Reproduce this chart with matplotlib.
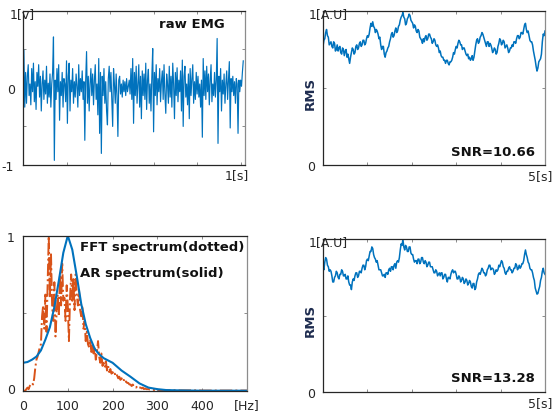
import numpy as np
import matplotlib
matplotlib.use("Agg")
import matplotlib.pyplot as plt

# ---------------- data ----------------
emg_dt = 0.004
emg = [
    0.10, 0.49, -0.25, 0.20, -0.20, 0.15, 0.30, -0.10, 0.05, -0.22,
    0.25, -0.05, 0.32, -0.18, 0.08, -0.28, 0.20, 0.02, 0.30, -0.12,
    0.15, -0.30, 0.05, 0.22, -0.15, 0.10, -0.08, 0.28, -0.20, 0.06,
    -0.12, 0.18, -0.25, 0.05, 0.20, 0.66, -0.94, 0.10, -0.15, 0.25,
    -0.05, 0.30, -0.42, 0.08, -0.10, 0.20, -0.25, 0.12, 0.05, -0.18,
    0.35, -0.46, 0.15, 0.32, -0.30, 0.10, -0.05, 0.25, -0.20, 0.08,
    -0.12, 0.18, 0.02, -0.25, 0.30, -0.10, 0.12, -0.05, 0.22, -0.15,
    0.08, -0.68, 0.10, 0.47, -0.20, 0.15, -0.30, 0.05, 0.25, -0.10,
    0.18, -0.22, 0.10, 0.30, -0.15, 0.05, -0.35, 0.38, -0.59, 0.20,
    -0.85, 0.15, -0.10, 0.25, -0.20, 0.08, -0.30, -0.48, 0.12, 0.28,
    -0.05, 0.20, -0.15, -0.50, 0.25, 0.05, -0.20, 0.18, -0.10, -0.63,
    0.10, 0.15, -0.08, 0.05, -0.12, 0.10, -0.05, 0.08, -0.10, 0.12,
    -0.05, 0.02, 0.10, -0.08, 0.25, -0.15, 0.38, -0.46, 0.20, -0.10,
    0.28, -0.20, 0.05, 0.30, -0.25, 0.15, -0.40, 0.22, -0.10, 0.18,
    -0.15, 0.32, -0.28, 0.10, 0.24, -0.20, 0.05, -0.30, 0.15, 0.51,
    -0.57, 0.20, -0.10, 0.30, -0.22, 0.12, -0.05, 0.25, -0.18, 0.08,
    0.22, -0.15, 0.30, -0.08, -0.33, 0.18, 0.05, -0.20, 0.28, -0.12,
    0.15, -0.25, 0.32, 0.05, -0.40, 0.20, -0.10, 0.26, -0.18, 0.10,
    -0.05, 0.22, -0.30, 0.36, -0.50, 0.15, 0.28, -0.12, 0.05, -0.22,
    0.18, -0.40, 0.25, -0.10, 0.12, 0.30, -0.20, 0.08, -0.15, 0.20,
    -0.08, 0.15, -0.12, 0.05, -0.25, 0.10, -0.64, 0.38, -0.10, 0.22,
    -0.15, 0.28, -0.05, 0.18, -0.22, 0.10, 0.30, -0.18, 0.05, -0.10,
    0.20, -0.12, 0.10, 0.64, -0.72, 0.15, -0.05, 0.25, -0.30, 0.10,
    -0.08, 0.18, -0.20, 0.05, 0.22, -0.15, 0.10, 0.34, -0.52, 0.12,
    -0.05, 0.15, -0.10, 0.08, -0.20, 0.12, 0.05, -0.59, 0.10, -0.05,
    0.10, 0.02, 0.20, 0.35,
]

rms_duration = 5.0
rms1 = [
    0.77, 0.81, 0.82, 0.86, 0.88, 0.84, 0.83, 0.78, 0.79, 0.80, 0.77, 0.76, 0.80, 0.79, 0.74, 0.75, 0.78, 0.74, 0.76, 0.77,
    0.73, 0.72, 0.76, 0.75, 0.71, 0.74, 0.75, 0.70, 0.72, 0.69, 0.66, 0.70, 0.73, 0.76, 0.75, 0.72, 0.73, 0.77, 0.78, 0.75,
    0.76, 0.79, 0.80, 0.77, 0.78, 0.81, 0.81, 0.78, 0.79, 0.82, 0.84, 0.83, 0.85, 0.89, 0.92, 0.90, 0.93, 0.90, 0.89, 0.86,
    0.88, 0.87, 0.85, 0.82, 0.83, 0.78, 0.75, 0.77, 0.77, 0.72, 0.70, 0.73, 0.74, 0.76, 0.77, 0.80, 0.82, 0.85, 0.86, 0.83,
    0.84, 0.87, 0.89, 0.86, 0.87, 0.90, 0.91, 0.94, 0.96, 0.97, 0.99, 0.96, 0.95, 0.91, 0.92, 0.95, 0.96, 0.98, 0.97, 0.94,
    0.93, 0.92, 0.89, 0.91, 0.90, 0.87, 0.86, 0.88, 0.87, 0.83, 0.82, 0.81, 0.79, 0.82, 0.80, 0.83, 0.84, 0.81, 0.82, 0.85,
    0.85, 0.83, 0.82, 0.79, 0.80, 0.82, 0.81, 0.78, 0.77, 0.78, 0.76, 0.73, 0.74, 0.71, 0.70, 0.70, 0.68, 0.68, 0.66, 0.68,
    0.68, 0.66, 0.65, 0.67, 0.67, 0.68, 0.70, 0.73, 0.72, 0.75, 0.77, 0.76, 0.79, 0.81, 0.80, 0.78, 0.78, 0.75, 0.76, 0.76,
    0.74, 0.72, 0.71, 0.72, 0.69, 0.70, 0.68, 0.69, 0.71, 0.68, 0.70, 0.74, 0.78, 0.81, 0.82, 0.79, 0.80, 0.83, 0.84, 0.86,
    0.85, 0.83, 0.81, 0.79, 0.77, 0.80, 0.80, 0.77, 0.79, 0.78, 0.76, 0.73, 0.74, 0.76, 0.75, 0.72, 0.73, 0.77, 0.79, 0.82,
    0.81, 0.78, 0.79, 0.81, 0.80, 0.76, 0.77, 0.78, 0.76, 0.73, 0.74, 0.76, 0.76, 0.78, 0.77, 0.80, 0.80, 0.79, 0.82, 0.84,
    0.84, 0.82, 0.83, 0.86, 0.86, 0.85, 0.88, 0.91, 0.92, 0.88, 0.86, 0.87, 0.84, 0.81, 0.80, 0.80, 0.78, 0.74, 0.71, 0.68,
    0.64, 0.61, 0.63, 0.67, 0.68, 0.69, 0.72, 0.80, 0.85, 0.84, 0.87,
]
rms2 = [
    0.82, 0.80, 0.85, 0.88, 0.87, 0.83, 0.82, 0.79, 0.80, 0.79, 0.76, 0.72, 0.72, 0.75, 0.76, 0.79, 0.78, 0.75, 0.74, 0.77,
    0.77, 0.80, 0.79, 0.76, 0.76, 0.77, 0.74, 0.74, 0.76, 0.72, 0.70, 0.70, 0.67, 0.72, 0.74, 0.73, 0.76, 0.78, 0.78, 0.75,
    0.76, 0.79, 0.79, 0.78, 0.81, 0.83, 0.83, 0.80, 0.82, 0.86, 0.87, 0.86, 0.89, 0.92, 0.92, 0.95, 0.94, 0.90, 0.88, 0.87,
    0.85, 0.86, 0.83, 0.80, 0.80, 0.80, 0.78, 0.76, 0.76, 0.77, 0.75, 0.78, 0.78, 0.77, 0.80, 0.81, 0.79, 0.82, 0.82, 0.80,
    0.83, 0.84, 0.81, 0.85, 0.86, 0.85, 0.88, 0.93, 0.97, 0.96, 1.00, 0.95, 0.93, 0.96, 0.95, 0.92, 0.92, 0.95, 0.95, 0.91,
    0.90, 0.90, 0.87, 0.85, 0.86, 0.86, 0.84, 0.87, 0.87, 0.84, 0.85, 0.88, 0.88, 0.85, 0.84, 0.86, 0.85, 0.82, 0.83, 0.85,
    0.85, 0.82, 0.82, 0.82, 0.80, 0.78, 0.78, 0.80, 0.79, 0.76, 0.77, 0.78, 0.76, 0.78, 0.78, 0.74, 0.75, 0.77, 0.77, 0.74,
    0.72, 0.75, 0.75, 0.74, 0.77, 0.79, 0.80, 0.78, 0.79, 0.79, 0.77, 0.74, 0.74, 0.76, 0.75, 0.72, 0.73, 0.75, 0.74, 0.71,
    0.72, 0.74, 0.73, 0.70, 0.71, 0.73, 0.72, 0.69, 0.68, 0.71, 0.71, 0.67, 0.68, 0.72, 0.74, 0.77, 0.78, 0.77, 0.79, 0.81,
    0.80, 0.78, 0.78, 0.76, 0.77, 0.80, 0.81, 0.83, 0.83, 0.80, 0.81, 0.81, 0.80, 0.77, 0.78, 0.80, 0.79, 0.80, 0.83, 0.82,
    0.84, 0.86, 0.85, 0.82, 0.81, 0.78, 0.77, 0.79, 0.79, 0.81, 0.82, 0.80, 0.80, 0.78, 0.79, 0.81, 0.81, 0.84, 0.83, 0.80,
    0.81, 0.83, 0.81, 0.82, 0.84, 0.84, 0.86, 0.90, 0.93, 0.90, 0.88, 0.85, 0.84, 0.81, 0.80, 0.80, 0.78, 0.75, 0.73, 0.68,
    0.66, 0.64, 0.645, 0.67, 0.69, 0.73, 0.75, 0.79, 0.81, 0.78, 0.77,
]

fft_freq = list(np.arange(0, 300.1, 2.5)) + list(np.arange(310, 500.1, 10))
fft_amp = [
    0.00, 0.00, 0.00, 0.01, 0.02, 0.01, 0.03, 0.04, 0.05, 0.04,
    0.08, 0.15, 0.20, 0.22, 0.25, 0.28, 0.30, 0.48, 0.55, 0.40,
    0.62, 0.38, 0.70, 1.00, 0.60, 0.88, 0.55, 0.45, 0.70, 0.35,
    0.50, 0.62, 0.48, 0.75, 0.55, 0.82, 0.58, 0.60, 0.45, 0.68,
    0.55, 0.32, 0.60, 0.75, 0.58, 0.72, 0.52, 0.75, 0.62, 0.55,
    0.65, 0.52, 0.48, 0.55, 0.40, 0.45, 0.32, 0.38, 0.30, 0.28,
    0.33, 0.25, 0.30, 0.24, 0.28, 0.20, 0.25, 0.32, 0.22, 0.18,
    0.24, 0.16, 0.18, 0.15, 0.19, 0.13, 0.16, 0.12, 0.14, 0.11,
    0.12, 0.10, 0.11, 0.09, 0.10, 0.08, 0.09, 0.07, 0.08, 0.06,
    0.07, 0.05, 0.06, 0.05, 0.05, 0.04, 0.04, 0.03, 0.04, 0.03,
    0.03, 0.02, 0.03, 0.02, 0.02, 0.02, 0.015, 0.02, 0.01, 0.015,
    0.01, 0.01, 0.01, 0.008, 0.008, 0.006, 0.006, 0.005, 0.005, 0.004,
    0.004,
    0.004, 0.003, 0.003, 0.003, 0.002, 0.002, 0.002, 0.002, 0.002, 0.001,
    0.001, 0.001, 0.001, 0.001, 0.001, 0.001, 0.001, 0.001, 0.001, 0.001,
]

ar_freq = [0, 10, 20, 30, 40, 50, 60, 70, 80, 90, 100, 110, 120, 130, 140,
           150, 160, 170, 180, 190, 200, 220, 240, 260, 280, 300, 320, 350,
           400, 450, 500]
ar_amp = [0.18, 0.185, 0.20, 0.22, 0.26, 0.33, 0.41, 0.54, 0.71, 0.89, 1.00,
          0.91, 0.74, 0.56, 0.43, 0.34, 0.27, 0.235, 0.21, 0.195, 0.18, 0.13,
          0.09, 0.047, 0.02, 0.01, 0.004, 0.002, 0.0, 0.0, 0.0]

snr_labels = ["SNR=10.66", "SNR=13.28"]

# ---------------- style ----------------
BLUE = "#0072BD"
ORANGE = "#D95319"
TXT = "#262626"
W, H = 554, 417

fig = plt.figure(figsize=(W / 100, H / 100), dpi=100)


def px_axes(l, t, r, b):
    return fig.add_axes([l / W, 1 - b / H, (r - l) / W, (b - t) / H])


def ptext(x, y, s, **kw):
    kw.setdefault("fontsize", 9)
    kw.setdefault("color", TXT)
    fig.text(x / W, 1 - y / H, s, **kw)


def style(ax):
    for side in ["left", "bottom", "top"]:
        ax.spines[side].set_color("#262626")
        ax.spines[side].set_linewidth(0.9)
    ax.spines["right"].set_color("#8c8c8c")
    ax.spines["right"].set_linewidth(0.9)
    ax.tick_params(direction="in", length=2.5, width=0.7, color="#8c8c8c",
                   top=True, right=True, labelleft=False, labelbottom=False)


# panel 1: raw EMG
ax1 = px_axes(23, 10.7, 245, 165)
t = np.arange(len(emg)) * emg_dt
ax1.plot(t, emg, color=BLUE, lw=0.85)
ax1.set_xlim(0, 1.02)
ax1.set_ylim(-1, 1)
ax1.set_xticks([0.2, 0.4, 0.6, 0.8, 1.0])
ax1.set_yticks([-0.5, 0.5])
style(ax1)
ptext(10, 14.5, "1[v]", ha="left", va="center")
ptext(15, 90, "0", ha="right", va="center")
ptext(14, 168, "-1", ha="right", va="center")
ptext(236.5, 176, "1[s]", ha="center", va="center")
ptext(192, 24, "raw EMG", ha="center", va="center", fontsize=9.5,
      fontweight="bold", color="#111111")

# panels 2 and 4: RMS
for (top, bot, rms, snr) in [(11, 165, rms1, snr_labels[0]),
                             (239.3, 391.7, rms2, snr_labels[1])]:
    ax = px_axes(323, top, 545, bot)
    tr = np.arange(len(rms)) * rms_duration / (len(rms) - 1)
    ax.plot(tr, rms, color=BLUE, lw=1.1)
    ax.set_xlim(0, 5)
    ax.set_ylim(0, 1)
    ax.set_xticks([1, 2, 3, 4])
    ax.set_yticks([0.5])
    style(ax)
    ptext(309, top + 3.5, "1[A.U]", ha="left", va="center")
    ptext(315, bot + 2.5, "0", ha="right", va="center")
    ptext(310, top + 0.535 * (bot - top), "RMS", ha="center", va="center",
          rotation=90, fontweight="bold", color="#1f2d50", fontsize=9.5)
    ptext(540, bot + 12, "5[s]", ha="center", va="center")
    ptext(493, bot - 13, snr, ha="center", va="center", fontweight="bold",
          fontsize=9.5, color="#111111")

# panel 3: spectra
ax3 = px_axes(23, 235.7, 247, 390.7)
ax3.plot(fft_freq, fft_amp, color=ORANGE, lw=1.4, ls="-.")
ax3.plot(ar_freq, ar_amp, color=BLUE, lw=1.5)
ax3.set_xlim(0, 500)
ax3.set_ylim(0, 1)
ax3.set_xticks([100, 200, 300, 400])
ax3.set_yticks([0.5])
style(ax3)
for v, lab in zip([0, 100, 200, 300, 400, 500], ["0", "100", "200", "300", "400", "[Hz]"]):
    ptext(23 + v / 500 * 224, 406, lab, ha="center", va="center")
ptext(15, 238, "1", ha="right", va="center")
ptext(15, 391, "0", ha="right", va="center")
ptext(80, 248, "FFT spectrum(dotted)", ha="left", va="center",
      fontweight="bold", fontsize=9.5, color="#111111")
ptext(80, 273, "AR spectrum(solid)", ha="left", va="center",
      fontweight="bold", fontsize=9.5, color="#111111")

fig.savefig("out.png", dpi=100)
